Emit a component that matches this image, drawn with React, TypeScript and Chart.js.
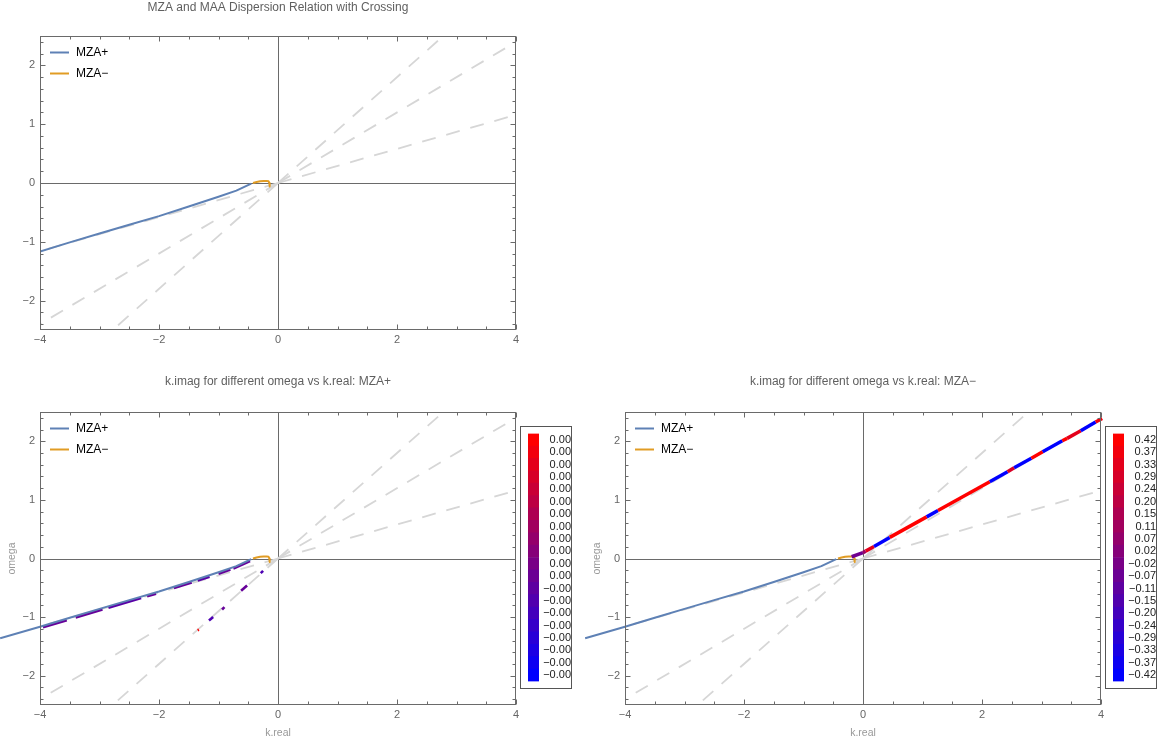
import React, { useEffect, useRef } from 'react';
import { Chart, registerables } from 'chart.js';

Chart.register(...registerables);
Chart.defaults.font.family = '"Liberation Sans", Arial, sans-serif';

// ---------- data ----------
// MZA+ branch: omega against k.real
const mzaPlusK = [-4.67, -4.0, -3.5, -3.0, -2.5, -2.0, -1.5, -1.0, -0.7, -0.45];
const mzaPlusOmega = [-1.36, -1.166, -1.01, -0.86, -0.71, -0.563, -0.4, -0.235, -0.13, -0.01];

// MZA− branch
const mzaMinusK = [-0.42, -0.36, -0.3, -0.24, -0.19, -0.16, -0.145, -0.14];
const mzaMinusOmega = [0.0, 0.018, 0.03, 0.036, 0.036, 0.03, 0.0, -0.06];

// reference lines omega = v·k, given by their end points (mirrored through the origin)
const guideEndK = [4.6, 4.6, 3.0];
const guideEndOmega = [1.334, 2.76, 2.7];

// k.imag marks for MZA+ (null separates pieces)
const plusMarkK = [
  -3.95, -3.55, null, -3.4, -2.95, null, -2.85, -2.3, null, -2.2, -2.05, null,
  -1.75, -1.45, null, -1.35, -1.15, null, -1.0, -0.8, null, -0.75, -0.47, null,
  -0.29, -0.25, null, -0.62, -0.52, null, -0.94, -0.9, null, -1.16, -1.09, null,
  -1.35, -1.33,
];
const plusMarkOmega = [
  -1.175, -1.055, null, -1.005, -0.87, null, -0.84, -0.675, null, -0.645, -0.6, null,
  -0.505, -0.41, null, -0.375, -0.31, null, -0.26, -0.19, null, -0.17, -0.045, null,
  -0.25, -0.21, null, -0.55, -0.46, null, -0.87, -0.83, null, -1.06, -1.0, null,
  -1.225, -1.215,
];
const plusMarkImag = [
  0.0, 0.0, null, 0.0, 0.0, null, -0.0001, -0.0001, null, 0.0, 0.0, null,
  0.0, 0.0, null, -0.0001, -0.0001, null, 0.0, 0.0, null, 0.0, 0.0, null,
  -0.0002, -0.0002, null, 0.0, 0.0, null, 0.0, 0.0, null, -0.0002, -0.0002, null,
  0.0012, 0.0012,
];
const plusBarTicks = [
  0.0012, 0.0011, 0.001, 0.0009, 0.0008, 0.0007, 0.0006, 0.0005, 0.0004, 0.0003,
  0.0002, 0.0001, -0.0001, -0.0002, -0.0003, -0.0004, -0.0005, -0.0006, -0.0007, -0.0008,
];

// k.imag along the MZA− track
const trackK = [-0.19, 0.0, 0.045, 0.185, 0.45, 1.07, 1.26, 2.13, 2.43, 2.54, 2.83, 3.02, 3.35, 3.43, 3.66, 3.91, 4.02];
const trackOmega = [0.03, 0.1, 0.126, 0.205, 0.36, 0.71, 0.82, 1.31, 1.48, 1.55, 1.71, 1.82, 2.01, 2.05, 2.18, 2.33, 2.39];
const trackImag = [-0.05, 0.1, 0.33, -0.42, 0.42, -0.42, 0.42, -0.42, 0.29, -0.42, 0.42, -0.42, 0.42, 0.33, -0.42, 0.37, 0.37];
const minusBarTicks = [
  0.42, 0.37, 0.33, 0.29, 0.24, 0.2, 0.15, 0.11, 0.07, 0.02,
  -0.02, -0.07, -0.11, -0.15, -0.2, -0.24, -0.29, -0.33, -0.37, -0.42,
];

// frame ticks
const xMajorTicks = [-4, -2, 0, 2, 4];
const xMinorTicks = [-3.5, -3, -2.5, -1.5, -1, -0.5, 0.5, 1, 1.5, 2.5, 3, 3.5];
const yMajorTicks = [-2, -1, 0, 1, 2];
const yMinorTicks = [-2.4, -2.2, -1.8, -1.6, -1.4, -1.2, -0.8, -0.6, -0.4, -0.2, 0.2, 0.4, 0.6, 0.8, 1.2, 1.4, 1.6, 1.8, 2.2, 2.4];

const legendLabels = ['MZA+', 'MZA\u2212'];

// ---------- helpers ----------
const MINUS = '\u2212';
const BLUE = '#5E81B5';
const ORANGE = '#E19C24';

const blendRedBlue = (t: number) => {
  const c = Math.max(0, Math.min(1, t));
  return `rgb(${Math.round(255 * c)}, 0, ${Math.round(255 * (1 - c))})`;
};
const valueColor = (v: number, ticks: number[]) => {
  const hi = ticks[0];
  const lo = ticks[ticks.length - 1];
  return blendRedBlue((v - lo) / (hi - lo));
};
const pts = (xs: (number | null)[], ys: (number | null)[]) => xs.map((x, i) => ({ x, y: ys[i] }));
const tickText = (v: number) => (v < 0 ? MINUS + Math.abs(v) : String(v));
const barText = (v: number) => (v < 0 ? MINUS : '') + Math.abs(v).toFixed(2);

// ---------- frame / axes / legend drawing ----------
const framePlugin = {
  id: 'mmaFrame',
  beforeDatasetsDraw(chart: any) {
    const { ctx, chartArea: a } = chart;
    const x0 = Math.round(chart.scales.x.getPixelForValue(0)) + 0.5;
    const y0 = Math.round(chart.scales.y.getPixelForValue(0)) + 0.5;
    ctx.save();
    ctx.strokeStyle = '#6a6a6a';
    ctx.lineWidth = 1;
    ctx.beginPath();
    ctx.moveTo(x0, a.top);
    ctx.lineTo(x0, a.bottom);
    ctx.moveTo(a.left, y0);
    ctx.lineTo(a.right, y0);
    ctx.stroke();
    ctx.restore();
  },
  afterDatasetsDraw(chart: any, _args: any, opts: any) {
    const { ctx, chartArea: a } = chart;
    const sx = chart.scales.x;
    const sy = chart.scales.y;
    const L = a.left + 0.5;
    const R = a.right - 0.5;
    const T = a.top + 0.5;
    const B = a.bottom - 0.5;
    ctx.save();
    ctx.strokeStyle = '#6a6a6a';
    ctx.lineWidth = 1;
    ctx.strokeRect(L, T, R - L, B - T);

    ctx.beginPath();
    const xTick = (v: number, len: number) => {
      const p = Math.round(sx.getPixelForValue(v)) + 0.5;
      ctx.moveTo(p, B);
      ctx.lineTo(p, B - len);
      ctx.moveTo(p, T);
      ctx.lineTo(p, T + len);
    };
    const yTick = (v: number, len: number) => {
      const p = Math.round(sy.getPixelForValue(v)) + 0.5;
      ctx.moveTo(L, p);
      ctx.lineTo(L + len, p);
      ctx.moveTo(R, p);
      ctx.lineTo(R - len, p);
    };
    xMajorTicks.forEach((v) => xTick(v, 5));
    xMinorTicks.forEach((v) => xTick(v, 3));
    yMajorTicks.forEach((v) => yTick(v, 5));
    yMinorTicks.forEach((v) => yTick(v, 3));
    ctx.stroke();

    ctx.fillStyle = '#666';
    ctx.font = '11px "Liberation Sans", Arial, sans-serif';
    ctx.textBaseline = 'middle';
    ctx.textAlign = 'center';
    xMajorTicks.forEach((v) => ctx.fillText(tickText(v), sx.getPixelForValue(v), a.bottom + 10));
    ctx.textAlign = 'right';
    yMajorTicks.forEach((v) => ctx.fillText(tickText(v), a.left - 5, sy.getPixelForValue(v)));

    const cx = (a.left + a.right) / 2;
    if (opts.title) {
      ctx.fillStyle = '#5f5f5f';
      ctx.font = '12px "Liberation Sans", Arial, sans-serif';
      ctx.textAlign = 'center';
      ctx.fillText(opts.title, cx, a.top - opts.titleGap);
    }
    if (opts.xLabel) {
      ctx.fillStyle = '#999';
      ctx.font = '10.5px "Liberation Sans", Arial, sans-serif';
      ctx.textAlign = 'center';
      ctx.fillText(opts.xLabel, cx, a.bottom + 28);
    }
    if (opts.yLabel) {
      ctx.save();
      ctx.fillStyle = '#999';
      ctx.font = '10.5px "Liberation Sans", Arial, sans-serif';
      ctx.translate(a.left - 28, (a.top + a.bottom) / 2);
      ctx.rotate(-Math.PI / 2);
      ctx.textAlign = 'center';
      ctx.fillText(opts.yLabel, 0, 0);
      ctx.restore();
    }

    // legend in the upper-left corner of the frame
    const items = chart.data.datasets.filter((d: any) => legendLabels.includes(d.label));
    items.forEach((d: any, i: number) => {
      const y = a.top + 16.5 + i * 21;
      ctx.strokeStyle = d.borderColor;
      ctx.lineWidth = 2;
      ctx.beginPath();
      ctx.moveTo(a.left + 10, y);
      ctx.lineTo(a.left + 29, y);
      ctx.stroke();
      ctx.fillStyle = '#000';
      ctx.font = '12px "Liberation Sans", Arial, sans-serif';
      ctx.textAlign = 'left';
      ctx.fillText(d.label, a.left + 36, y);
    });
    ctx.restore();
  },
};

// ---------- dataset builders ----------
const guideDatasets = () => {
  const out: any[] = [];
  guideEndK.forEach((k, i) => {
    const w = guideEndOmega[i];
    [1, -1].forEach((s) => {
      out.push({
        data: [{ x: 0, y: 0 }, { x: s * k, y: s * w }],
        showLine: true,
        borderColor: '#d6d6d6',
        borderWidth: 1.8,
        borderDash: [14, 11],
        pointRadius: 0,
        order: 10,
      });
    });
  });
  return out;
};

const plusLine = (clip: boolean) => ({
  label: legendLabels[0],
  data: pts(mzaPlusK, mzaPlusOmega),
  showLine: true,
  borderColor: BLUE,
  borderWidth: 2,
  pointRadius: 0,
  order: 2,
  ...(clip ? {} : { clip: false }),
});

const minusLine = () => ({
  label: legendLabels[1],
  data: pts(mzaMinusK, mzaMinusOmega),
  showLine: true,
  borderColor: ORANGE,
  borderWidth: 2,
  pointRadius: 0,
  order: 3,
});

const plusMarks = () => ({
  data: pts(plusMarkK, plusMarkOmega),
  showLine: true,
  spanGaps: false,
  borderWidth: 2.6,
  pointRadius: 0,
  order: 4,
  borderColor: valueColor(0, plusBarTicks),
  segment: {
    borderColor: (c: any) => valueColor(plusMarkImag[c.p0DataIndex] as number, plusBarTicks),
  },
});

const minusTrack = () => ({
  data: pts(trackK, trackOmega),
  showLine: true,
  borderWidth: 3.5,
  pointRadius: 0,
  order: 1,
  clip: false,
  borderColor: valueColor(0, minusBarTicks),
  segment: {
    borderColor: (c: any) => valueColor(trackImag[c.p0DataIndex], minusBarTicks),
  },
});

const plotConfig = (datasets: any[], padding: any, frame: any) => ({
  type: 'scatter',
  data: { datasets },
  options: {
    responsive: false,
    animation: false,
    events: [],
    layout: { padding },
    elements: { line: { tension: 0, borderCapStyle: 'butt', borderJoinStyle: 'round' } },
    scales: {
      x: { type: 'linear', min: -4, max: 4, display: false },
      y: { type: 'linear', min: -2.5, max: 2.5, display: false },
    },
    plugins: { legend: { display: false }, tooltip: { enabled: false }, mmaFrame: frame },
  },
  plugins: [framePlugin],
});

const colorBarConfig = (ticks: number[]) => ({
  type: 'bar',
  data: {
    labels: ticks.map(barText),
    datasets: [
      {
        data: ticks.map(() => 1),
        backgroundColor: ticks.map((_, i) => blendRedBlue(1 - i / (ticks.length - 1))),
        borderWidth: 0,
        barPercentage: 1,
        categoryPercentage: 1,
      },
    ],
  },
  options: {
    indexAxis: 'y',
    responsive: false,
    animation: false,
    events: [],
    layout: { padding: { left: 7, top: 5, bottom: 5, right: 0 } },
    scales: {
      x: { display: false, min: 0, max: 1 },
      y: {
        position: 'right',
        grid: { display: false, drawTicks: false },
        border: { display: false },
        ticks: { padding: 0, crossAlign: 'far', color: '#222', font: { size: 11 }, autoSkip: false },
        afterFit: (s: any) => {
          s.width = 32;
        },
      },
    },
    plugins: { legend: { display: false }, tooltip: { enabled: false } },
  },
});

// ---------- components ----------
function ChartCanvas({ left, top, width, height, make }: any) {
  const ref = useRef<HTMLCanvasElement>(null);
  useEffect(() => {
    const chart = new Chart(ref.current as HTMLCanvasElement, make());
    return () => chart.destroy();
  }, []);
  return (
    <canvas
      ref={ref}
      width={width}
      height={height}
      style={{ position: 'absolute', left, top, width, height }}
    />
  );
}

function ColorBar({ left, top, ticks }: any) {
  return (
    <div
      style={{
        position: 'absolute',
        left,
        top,
        width: 52,
        height: 263,
        border: '1px solid #555',
        boxSizing: 'border-box',
        background: '#fff',
      }}
    >
      <ChartCanvas left={0} top={0} width={50} height={261} make={() => colorBarConfig(ticks)} />
    </div>
  );
}

export default function App() {
  return (
    <div style={{ position: 'absolute', left: 0, top: 0, width: 1161, height: 748, background: '#fff', overflow: 'hidden' }}>
      <ChartCanvas
        left={0}
        top={0}
        width={560}
        height={360}
        make={() =>
          plotConfig(
            [plusLine(true), minusLine(), ...guideDatasets()],
            { left: 40, top: 36, right: 44, bottom: 30 },
            { title: 'MZA and MAA Dispersion Relation with Crossing', titleGap: 28 }
          )
        }
      />
      <ChartCanvas
        left={0}
        top={370}
        width={520}
        height={378}
        make={() =>
          plotConfig(
            [plusLine(false), minusLine(), plusMarks(), ...guideDatasets()],
            { left: 40, top: 42, right: 4, bottom: 43 },
            { title: 'k.imag for different omega vs k.real: MZA+', titleGap: 30, xLabel: 'k.real', yLabel: 'omega' }
          )
        }
      />
      <ColorBar left={520} top={426} ticks={plusBarTicks} />
      <ChartCanvas
        left={575}
        top={370}
        width={530}
        height={378}
        make={() =>
          plotConfig(
            [minusTrack(), plusLine(false), minusLine(), ...guideDatasets()],
            { left: 50, top: 42, right: 4, bottom: 43 },
            { title: 'k.imag for different omega vs k.real: MZA\u2212', titleGap: 30, xLabel: 'k.real', yLabel: 'omega' }
          )
        }
      />
      <ColorBar left={1105} top={426} ticks={minusBarTicks} />
    </div>
  );
}
